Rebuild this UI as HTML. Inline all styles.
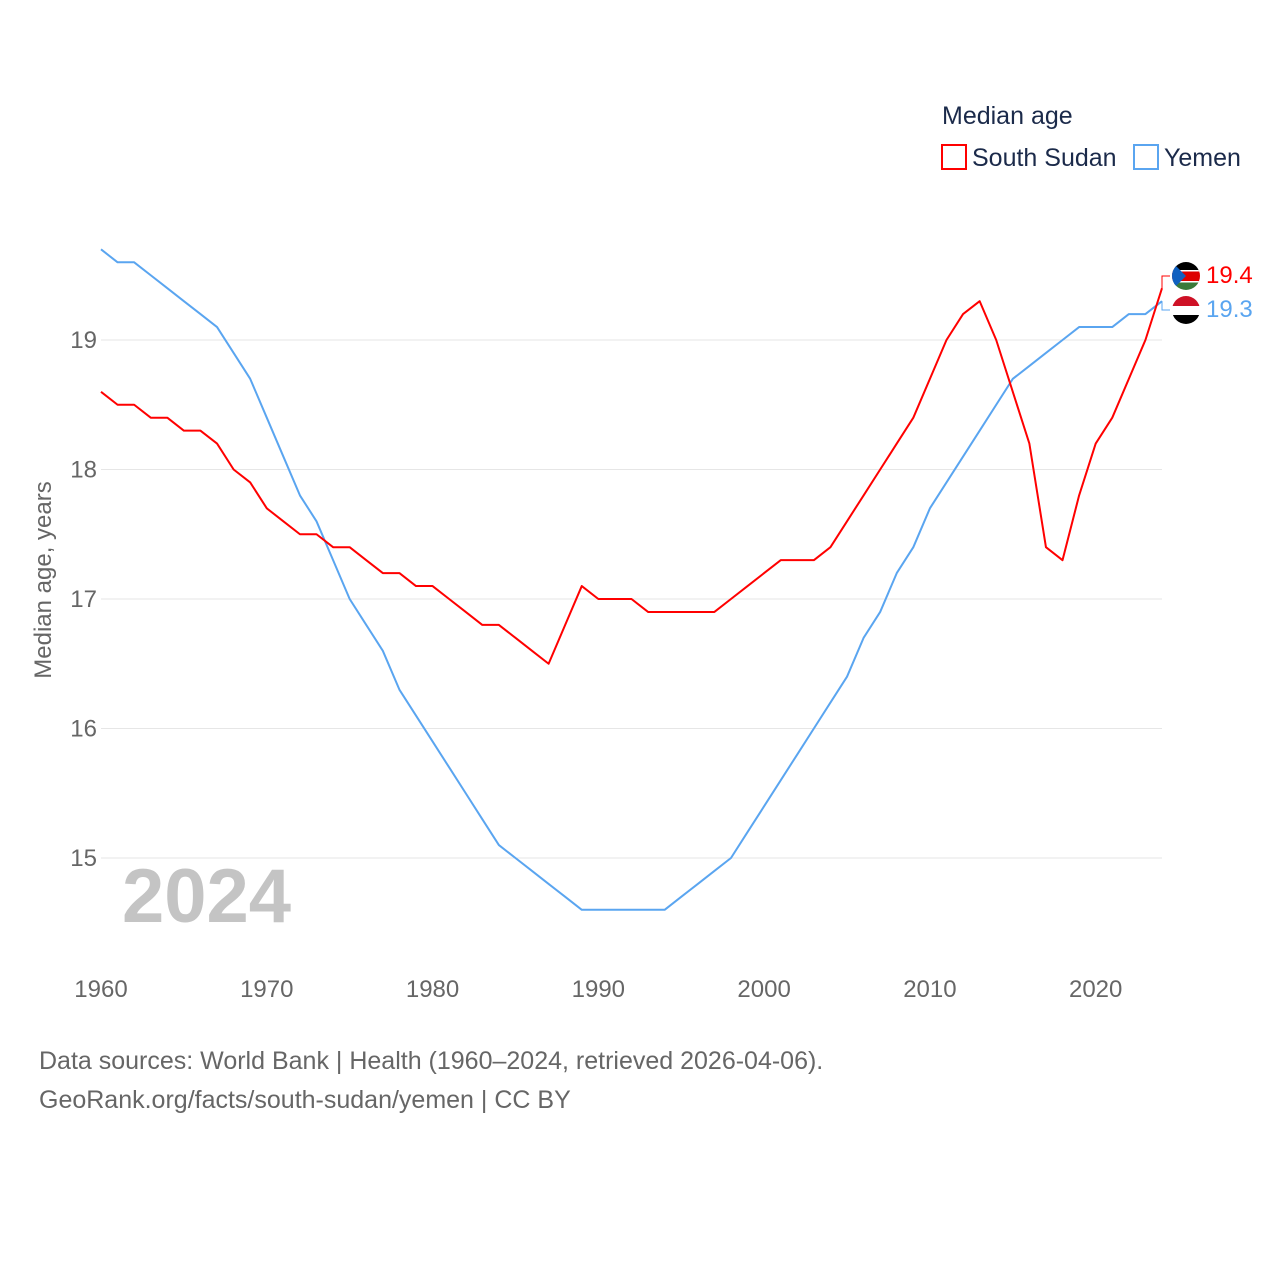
<!DOCTYPE html>
<html><head><meta charset="utf-8"><style>
body{margin:0;background:#fff;font-family:"Liberation Sans",sans-serif;}
svg text{font-family:"Liberation Sans",sans-serif;}
</style></head><body>
<svg width="1280" height="1280" viewBox="0 0 1280 1280">
<text x="942" y="124" font-size="25" fill="#1b2a4a">Median age</text>
<g><rect x="942" y="145" width="24" height="24" fill="none" stroke="#f00" stroke-width="2"/><text x="972" y="166" font-size="25" fill="#1b2a4a">South Sudan</text></g>
<g><rect x="1134" y="145" width="24" height="24" fill="none" stroke="#5aa5f0" stroke-width="2"/><text x="1164" y="166" font-size="25" fill="#1b2a4a">Yemen</text></g>
<g id="grid"></g>
<g id="yticks"></g>
<g id="xticks"></g>
<text transform="translate(51,580) rotate(-90)" text-anchor="middle" font-size="24" fill="#666">Median age, years</text>
<text x="122" y="922" font-size="76" font-weight="bold" fill="#c4c4c4">2024</text>
<g id="lines"></g>
<g><clipPath id="c1"><circle cx="1186" cy="276" r="14"/></clipPath><g clip-path="url(#c1)"><rect x="1172" y="262" width="28" height="9" fill="#000"/><rect x="1172" y="271" width="28" height="10" fill="#d00"/><rect x="1172" y="281" width="28" height="9" fill="#3a7a3a"/><rect x="1172" y="270" width="28" height="1.5" fill="#fff"/><rect x="1172" y="281" width="28" height="1.5" fill="#fff"/><polygon points="1172,262 1186,276 1172,290" fill="#1060c0"/></g></g>
<g><clipPath id="c2"><circle cx="1186" cy="310" r="14"/></clipPath><g clip-path="url(#c2)"><rect x="1172" y="296" width="28" height="10" fill="#ce1126"/><rect x="1172" y="306" width="28" height="9" fill="#fff"/><rect x="1172" y="315" width="28" height="10" fill="#000"/></g></g>
<text x="1206" y="283" font-size="24" fill="#f00">19.4</text>
<text x="1206" y="317" font-size="24" fill="#5aa5f0">19.3</text>
<text x="39" y="1069" font-size="25" fill="#666">Data sources: World Bank | Health (1960–2024, retrieved 2026-04-06).</text>
<text x="39" y="1108" font-size="25" fill="#666">GeoRank.org/facts/south-sudan/yemen | CC BY</text>
</svg>
<script>
const years=[];for(let y=1960;y<=2024;y++)years.push(y);
const southSudan=[18.6,18.5,18.5,18.4,18.4,18.3,18.3,18.2,18.0,17.9,17.7,17.6,17.5,17.5,17.4,17.4,17.3,17.2,17.2,17.1,17.1,17.0,16.9,16.8,16.8,16.7,16.6,16.5,16.8,17.1,17.0,17.0,17.0,16.9,16.9,16.9,16.9,16.9,17.0,17.1,17.2,17.3,17.3,17.3,17.4,17.6,17.8,18.0,18.2,18.4,18.7,19.0,19.2,19.3,19.0,18.6,18.2,17.4,17.3,17.8,18.2,18.4,18.7,19.0,19.4];
const yemen=[19.7,19.6,19.6,19.5,19.4,19.3,19.2,19.1,18.9,18.7,18.4,18.1,17.8,17.6,17.3,17.0,16.8,16.6,16.3,16.1,15.9,15.7,15.5,15.3,15.1,15.0,14.9,14.8,14.7,14.6,14.6,14.6,14.6,14.6,14.6,14.7,14.8,14.9,15.0,15.2,15.4,15.6,15.8,16.0,16.2,16.4,16.7,16.9,17.2,17.4,17.7,17.9,18.1,18.3,18.5,18.7,18.8,18.9,19.0,19.1,19.1,19.1,19.2,19.2,19.3];
const yTicks=[15,16,17,18,19];
const xTicks=[1960,1970,1980,1990,2000,2010,2020];
const X=y=>101+(y-1960)*(1162-101)/64;
const Y=v=>858-(v-15)*129.5;
const NS="http://www.w3.org/2000/svg";
function mk(t,a,p){const e=document.createElementNS(NS,t);for(const k in a)e.setAttribute(k,a[k]);p.appendChild(e);return e;}
const grid=document.getElementById('grid'),yt=document.getElementById('yticks'),xt=document.getElementById('xticks'),lines=document.getElementById('lines');
yTicks.forEach(v=>{
 const l=mk('line',{x1:101,x2:1162,y1:Y(v),y2:Y(v),stroke:'#e6e6e6','stroke-width':1},grid);
 
 
 const t=mk('text',{x:97,y:Y(v)+8,'text-anchor':'end','font-size':24,fill:'#666'},yt);t.textContent=v;
 
 
});
xTicks.forEach(v=>{
 const t=mk('text',{x:X(v),y:997,'text-anchor':'middle','font-size':24,fill:'#666'},xt);t.textContent=v;
 
 
});
function line(data,color,name){
 const p=mk('polyline',{points:data.map((v,i)=>X(years[i])+','+Y(v)).join(' '),fill:'none',stroke:color,'stroke-width':2,'stroke-linejoin':'round'},lines);
 
 
}
line(yemen,'#5aa5f0','line-yemen');
line(southSudan,'#f00','line-south-sudan');
const lx=X(2024);
const c1=mk('polyline',{points:`${lx},${Y(southSudan[64])} ${lx},276 1170,276`,fill:'none',stroke:'#f00','stroke-width':1},lines);


const c2=mk('polyline',{points:`${lx},${Y(yemen[64])} ${lx},310 1170,310`,fill:'none',stroke:'#5aa5f0','stroke-width':1},lines);


</script>
</body></html>
